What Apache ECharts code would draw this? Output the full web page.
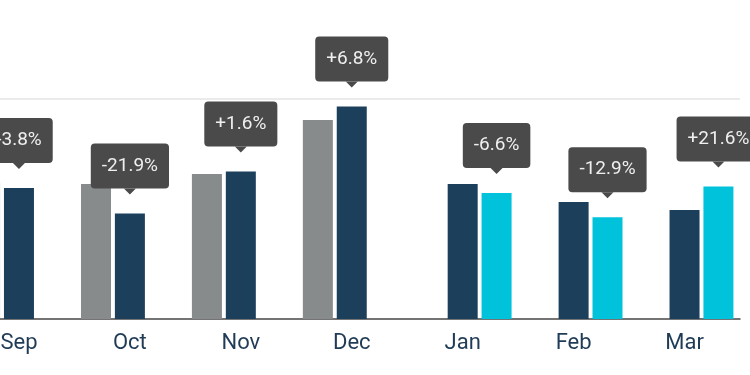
<!DOCTYPE html>
<html>
<head>
<meta charset="utf-8">
<script src="https://cdn.jsdelivr.net/npm/echarts@6/dist/echarts.min.js"></script>
<style>html,body{margin:0;padding:0;background:#fff;overflow:hidden;width:750px;height:375px}#c{position:absolute;left:-37px;top:0;width:800px;height:375px}</style>
</head>
<body>
<div id="c"></div>
<script>
// Data
const categories = ['Sep', 'Oct', 'Nov', 'Dec', 'Jan', 'Feb', 'Mar'];
const priorValues = [61.9, 61.4, 65.9, 90.5, null, null, null];      // grey
const midValues   = [59.5, 48.0, 67.0, 96.6, 61.4, 53.2, 49.5];      // navy
const nextValues  = [null, null, null, null, 57.3, 46.3, 60.2];      // cyan
const changeLabels = ['-3.8%', '-21.9%', '+1.6%', '+6.8%', '-6.6%', '-12.9%', '+21.6%'];
const yMax = 100;

const calloutLabel = {
  show: true,
  position: 'top',
  distance: 25,
  formatter: p => changeLabels[p.dataIndex],
  backgroundColor: '#4a4a4a', color: '#efefef', fontSize: 19, fontFamily: 'Roboto',
  lineHeight: 19, padding: [13, 11, 13, 11], borderRadius: 4
};
const pointerStyle = {
  symbol: 'triangle', symbolSize: [12, 6], symbolRotate: 180, symbolOffset: [0, -22],
  itemStyle: { color: '#4a4a4a' }, label: { show: false }, silent: true, z: 10
};

// current-period callout on navy for Sep-Dec, on cyan for Jan-Mar
const midIsCurrent = nextValues.map(v => v == null);
const midData = midValues.map((v, i) => ({ value: v, label: midIsCurrent[i] ? calloutLabel : { show: false } }));
const nextData = nextValues.map((v, i) => ({ value: v, label: v == null ? { show: false } : calloutLabel }));
const midPointers = midValues.map((v, i) => midIsCurrent[i] ? { coord: [i, v] } : null).filter(Boolean);
const nextPointers = nextValues.map((v, i) => v != null ? { coord: [i, v] } : null).filter(Boolean);

const chart = echarts.init(document.getElementById('c'));
chart.setOption({
  animation: false,
  grid: { left: 0.5, right: 23, top: 99, bottom: 56 },
  xAxis: {
    type: 'category',
    data: categories,
    axisTick: { show: false },
    axisLine: { lineStyle: { color: '#4d4d4d', width: 1.5 } },
    axisLabel: { color: '#1f3b55', fontSize: 22, fontFamily: 'Roboto', margin: 13 }
  },
  yAxis: {
    type: 'value', min: 0, max: yMax, interval: yMax,
    axisLabel: { show: false },
    axisLine: { show: false }, axisTick: { show: false },
    splitLine: { lineStyle: { color: '#e4e4e4', width: 1.5 } }
  },
  series: [
    { type: 'bar', data: priorValues, barWidth: 30, barGap: '13%', itemStyle: { color: '#878b8c' } },
    { type: 'bar', data: midData, barWidth: 30, barGap: '13%', itemStyle: { color: '#1c3f5c' }, z: 3,
      markPoint: Object.assign({ data: midPointers }, pointerStyle) },
    { type: 'bar', data: nextData, barWidth: 30, barGap: '13%', itemStyle: { color: '#00c3db' }, z: 3,
      markPoint: Object.assign({ data: nextPointers }, pointerStyle) }
  ]
});
</script>
</body>
</html>
